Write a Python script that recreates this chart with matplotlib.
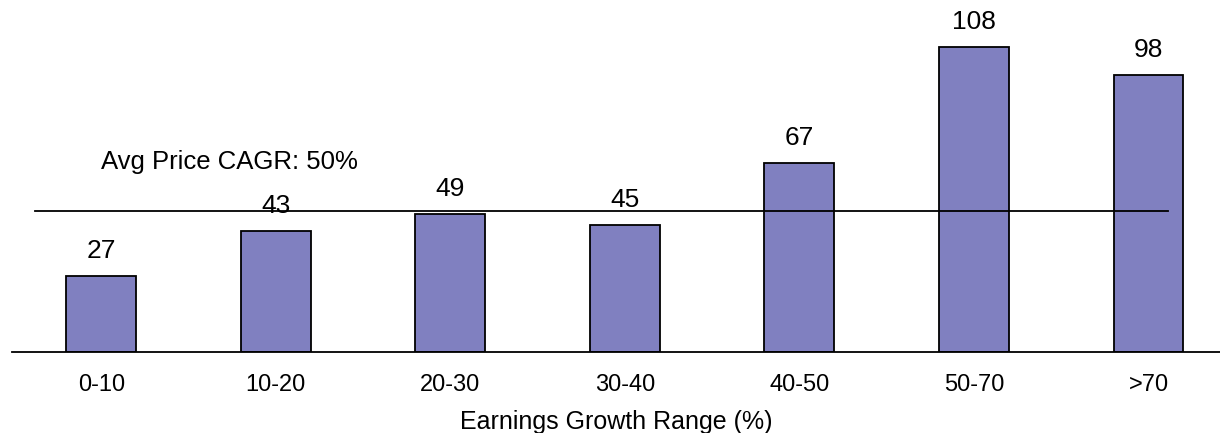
import matplotlib.pyplot as plt

plt.rcParams['font.family'] = ['Liberation Sans', 'DejaVu Sans']

categories = ["0-10", "10-20", "20-30", "30-40", "40-50", "50-70", ">70"]
price_growth = [27, 43, 49, 45, 67, 108, 98]
avg_cagr = 50

fig = plt.figure(figsize=(12.2, 4.33), dpi=100)
ax = fig.add_axes([0.01, 0.187, 0.99, 0.783])

x = range(len(categories))
ax.bar(x, price_growth, width=0.4, color="#8080c0", edgecolor="black", linewidth=1.3, zorder=2)

for i, v in zip(x, price_growth):
    ax.text(i, v + 4.5, str(v), ha="center", va="bottom", fontsize=19)

ax.plot([-0.38, 6.11], [avg_cagr, avg_cagr], color="black", linewidth=1.3, zorder=3)
ax.text(0.0, 67.3, "Avg Price CAGR: {}%".format(avg_cagr), ha="left", va="center", fontsize=18.5)

ax.set_xlim(-0.51, 6.41)
ax.set_ylim(0, 120)
ax.set_xticks(list(x))
ax.set_xticklabels(categories, fontsize=17)
ax.tick_params(axis="x", length=0, pad=16)
ax.set_yticks([])
for side in ["top", "right", "left"]:
    ax.spines[side].set_visible(False)
ax.spines["bottom"].set_linewidth(1.3)
ax.set_xlabel("Earnings Growth Range (%)", fontsize=18, labelpad=10)

fig.savefig("out.png", dpi=100)
